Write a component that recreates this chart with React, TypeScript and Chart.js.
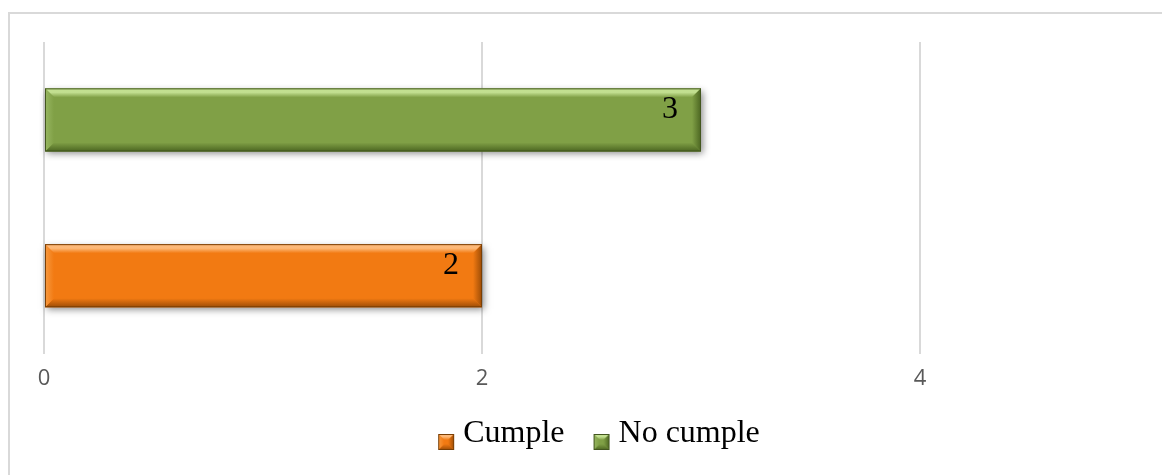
import { useEffect, useRef } from "react";
import { Chart, registerables } from "chart.js";

Chart.register(...registerables);

// Data
const categories = [""];
const seriesNames = ["No cumple", "Cumple"];
const noCumpleValues = [3];
const cumpleValues = [2];
const tickValues = [0, 2, 4];
const axisMax = 5;

type Shade = { base: string; light: string; dark: string; side: string; edge: string };

const shades: Record<string, Shade> = {
  Cumple: { base: "#f27a12", light: "#fdb877", dark: "#9c4c06", side: "#f79a40", edge: "#7a3f05" },
  "No cumple": { base: "#80a046", light: "#c2df90", dark: "#4b6521", side: "#98b762", edge: "#43561f" },
};

const CANVAS_W = 1162;
const CANVAS_H = 475;

function poly(ctx: CanvasRenderingContext2D, pts: number[][], fill: string | CanvasGradient) {
  ctx.beginPath();
  ctx.moveTo(pts[0][0], pts[0][1]);
  for (let i = 1; i < pts.length; i++) ctx.lineTo(pts[i][0], pts[i][1]);
  ctx.closePath();
  ctx.fillStyle = fill;
  ctx.fill();
}

// Bevelled rectangle in the style of an office chart bar
function bevelRect(
  ctx: CanvasRenderingContext2D,
  L: number,
  T: number,
  R: number,
  B: number,
  c: Shade,
  b: number,
  shadow: boolean
) {
  ctx.save();
  if (shadow) {
    ctx.shadowColor = "rgba(0,0,0,0.45)";
    ctx.shadowBlur = 7;
    ctx.shadowOffsetX = 2;
    ctx.shadowOffsetY = 3;
  }
  ctx.fillStyle = c.base;
  ctx.fillRect(L, T, R - L, B - T);
  ctx.restore();

  const top = ctx.createLinearGradient(0, T, 0, T + b);
  top.addColorStop(0, c.light);
  top.addColorStop(0.45, c.light);
  top.addColorStop(1, c.base);
  poly(ctx, [[L, T], [R, T], [R - b, T + b], [L + b, T + b]], top);

  const bottom = ctx.createLinearGradient(0, B - b, 0, B);
  bottom.addColorStop(0, c.base);
  bottom.addColorStop(1, c.dark);
  poly(ctx, [[L, B], [R, B], [R - b, B - b], [L + b, B - b]], bottom);

  const left = ctx.createLinearGradient(L, 0, L + b, 0);
  left.addColorStop(0, c.side);
  left.addColorStop(1, c.base);
  poly(ctx, [[L, T], [L + b, T + b], [L + b, B - b], [L, B]], left);

  const right = ctx.createLinearGradient(R - b, 0, R, 0);
  right.addColorStop(0, c.base);
  right.addColorStop(1, c.dark);
  poly(ctx, [[R, T], [R - b, T + b], [R - b, B - b], [R, B]], right);

  ctx.strokeStyle = c.edge;
  ctx.lineWidth = 1;
  ctx.strokeRect(L + 0.5, T + 0.5, R - L - 1, B - T - 1);
}

// Legend swatch: a bevelled square placed toward the right of a wider, taller canvas
const SWATCH = 16;
const SWATCH_BOX = 24;
function legendMarker(c: Shade): HTMLCanvasElement {
  const cw = 40;
  const drop = 8;
  const cv = document.createElement("canvas");
  cv.width = cw;
  cv.height = SWATCH + drop * 2;
  const ctx = cv.getContext("2d")!;
  bevelRect(ctx, cw - SWATCH - 1, drop * 2, cw - 1, drop * 2 + SWATCH, c, 6, false);
  return cv;
}

const bevelBars = {
  id: "bevelBars",
  afterDatasetsDraw(chart: Chart) {
    const ctx = chart.ctx;
    chart.data.datasets.forEach((ds, di) => {
      const meta = chart.getDatasetMeta(di);
      const c = shades[ds.label as string];
      meta.data.forEach((el: any, i: number) => {
        const p = el.getProps(["x", "y", "base", "height"], true);
        const L = Math.min(p.x, p.base);
        const R = Math.max(p.x, p.base);
        const T = p.y - p.height / 2;
        const B = p.y + p.height / 2;
        bevelRect(ctx, L, T, R, B, c, 9, true);

        // value label inside the end of the bar
        const v = (ds.data as number[])[i];
        ctx.save();
        ctx.font = '32px "Liberation Serif", "Times New Roman", serif';
        ctx.fillStyle = "#000000";
        ctx.textAlign = "center";
        ctx.textBaseline = "alphabetic";
        ctx.fillText(String(v), R - 31, T + 30);
        ctx.restore();
      });
    });
  },
};

export default function App() {
  const ref = useRef<HTMLCanvasElement>(null);

  useEffect(() => {
    if (!ref.current) return;
    const markers = [legendMarker(shades["No cumple"]), legendMarker(shades["Cumple"])];
    const chart = new Chart(ref.current, {
      type: "bar",
      data: {
        labels: categories,
        datasets: [
          {
            label: seriesNames[0],
            data: noCumpleValues,
            backgroundColor: "rgba(0,0,0,0)",
            borderWidth: 0,
            categoryPercentage: 1,
            barPercentage: 0.405,
          },
          {
            label: seriesNames[1],
            data: cumpleValues,
            backgroundColor: "rgba(0,0,0,0)",
            borderWidth: 0,
            categoryPercentage: 1,
            barPercentage: 0.405,
          },
        ],
      },
      options: {
        indexAxis: "y",
        animation: false,
        responsive: false,
        devicePixelRatio: 1,
        layout: { padding: { left: 44, right: CANVAS_W - 1139, top: 42, bottom: 15 } },
        scales: {
          x: {
            min: 0,
            max: axisMax,
            afterBuildTicks: (scale: any) => {
              scale.ticks = tickValues.map((v) => ({ value: v }));
            },
            grid: { color: "#d9d9d9", lineWidth: 2, drawTicks: false },
            border: { display: false },
            ticks: {
              padding: 12,
              color: "#595959",
              font: { family: '"Open Sans", sans-serif', size: 22 },
            },
          },
          y: { display: false },
        },
        plugins: {
          legend: {
            position: "bottom",
            reverse: true,
            labels: {
              usePointStyle: true,
              pointStyleWidth: SWATCH_BOX,
              padding: 14,
              color: "#000000",
              font: { family: '"Liberation Serif", "Times New Roman", serif', size: 32 },
              generateLabels: (ch: Chart) => {
                const items = Chart.defaults.plugins.legend.labels.generateLabels(ch);
                items.forEach((it: any) => {
                  it.pointStyle = markers[it.datasetIndex];
                });
                return items;
              },
            },
          },
          tooltip: { enabled: false },
        },
      },
      plugins: [bevelBars],
    });
    return () => chart.destroy();
  }, []);

  return (
    <div
      style={{
        position: "fixed",
        left: 0,
        top: 0,
        width: 1162,
        height: 475,
        overflow: "hidden",
        background: "#ffffff",
      }}
    >
      <div
        style={{
          position: "absolute",
          left: 8,
          top: 12,
          width: 1300,
          height: 600,
          borderTop: "2px solid #d9d9d9",
          borderLeft: "2px solid #d9d9d9",
        }}
      />
      <canvas
        ref={ref}
        width={CANVAS_W}
        height={CANVAS_H}
        style={{ position: "absolute", left: 0, top: 0, width: CANVAS_W, height: CANVAS_H }}
      />
    </div>
  );
}
